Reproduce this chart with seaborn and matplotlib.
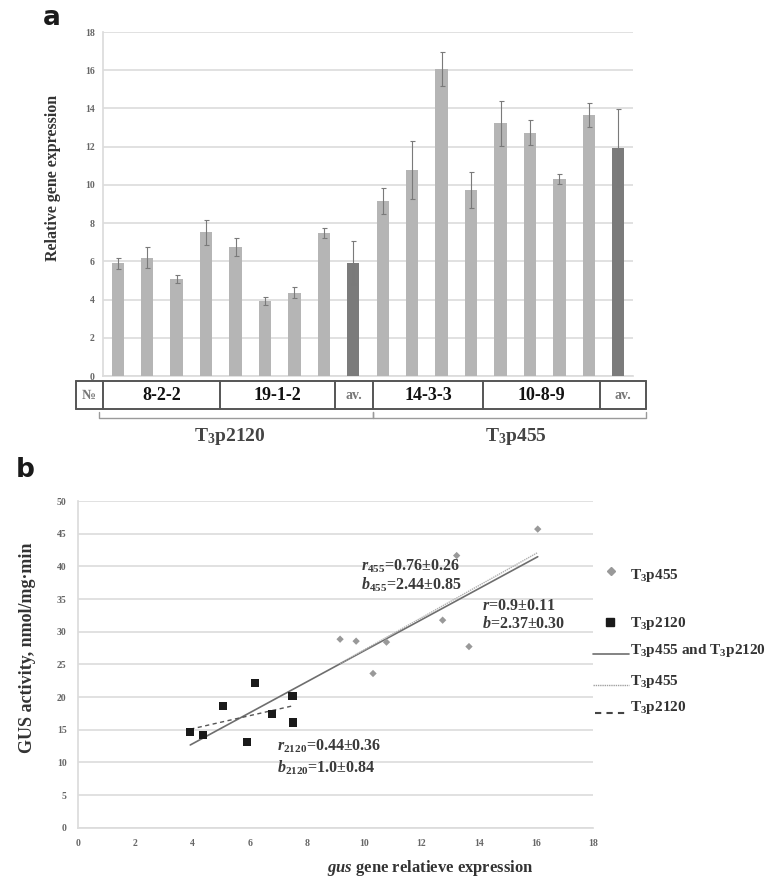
import numpy as np
import pandas as pd
import matplotlib
matplotlib.use("Agg")
import matplotlib.pyplot as plt
import matplotlib.transforms as mtransforms
from matplotlib.lines import Line2D
import seaborn as sns

# ---------------- data ----------------
# panel a: relative gene expression (bars) with error
samples = ["8-2-2 a", "8-2-2 b", "8-2-2 c", "8-2-2 d",
           "19-1-2 a", "19-1-2 b", "19-1-2 c", "19-1-2 d", "av. 2120",
           "14-3-3 a", "14-3-3 b", "14-3-3 c", "14-3-3 d",
           "10-8-9 a", "10-8-9 b", "10-8-9 c", "10-8-9 d", "av. 455"]
expression = [5.9, 6.2, 5.06, 7.52, 6.77, 3.93, 4.36, 7.5, 5.93,
              9.16, 10.78, 16.06, 9.72, 13.23, 12.74, 10.31, 13.66, 11.95]
expression_err = [0.28, 0.57, 0.2, 0.65, 0.47, 0.2, 0.28, 0.27, 1.14,
                  0.67, 1.52, 0.87, 0.94, 1.17, 0.66, 0.26, 0.62, 2.0]
is_average = [False] * 8 + [True] + [False] * 8 + [True]

table_labels = ["№", "8-2-2", "19-1-2", "av.", "14-3-3", "10-8-9", "av."]
construct_labels = ["T$_3$p2120", "T$_3$p455"]

# panel b: GUS activity vs gus expression
p455_expr = [9.16, 10.78, 16.06, 9.72, 13.23, 12.74, 10.31, 13.66]
p455_gus = [28.85, 28.4, 45.7, 28.55, 41.65, 31.76, 23.6, 27.72]
p2120_expr = [5.9, 6.2, 5.06, 7.52, 6.77, 3.93, 4.36, 7.5]
p2120_gus = [13.08, 22.1, 18.64, 16.1, 17.37, 14.7, 14.2, 20.2]

# ---------------- style ----------------
sns.set_theme(style="white")
plt.rcParams["font.family"] = ["Liberation Serif", "DejaVu Serif"]
plt.rcParams["mathtext.fontset"] = "custom"
plt.rcParams["mathtext.rm"] = "Liberation Serif:bold"
plt.rcParams["mathtext.it"] = "Liberation Serif:italic:bold"
plt.rcParams["mathtext.bf"] = "Liberation Serif:bold"

GRID = "#dcdcdc"
TICKC = "#666666"
TXT = "#333333"
LIGHT = "#b5b5b5"
DARK = "#7b7b7b"

fig = plt.figure(figsize=(7.72, 8.8), dpi=100)

# ================= panel a =================
axa = fig.add_axes([103 / 772, 1 - 376 / 880, 530 / 772, 344 / 880])
df_a = pd.DataFrame({"sample": samples, "expr": expression})
pal = {s: (DARK if av else LIGHT) for s, av in zip(samples, is_average)}
sns.barplot(data=df_a, x="sample", y="expr", hue="sample", palette=pal,
            legend=False, width=0.42, linewidth=0, ax=axa, zorder=3)
xpos = np.arange(len(samples))
axa.errorbar(xpos, expression, yerr=expression_err, fmt="none",
             ecolor="#7a7a7a", elinewidth=0.8, capsize=1.8, capthick=0.8,
             zorder=4)
axa.set_xlim(-0.5, len(samples) - 0.5)
axa.set_ylim(0, 18)
axa.set_yticks(np.arange(0, 19, 2))
axa.yaxis.grid(True, color=GRID, lw=1.2, zorder=0)
axa.set_axisbelow(True)
axa.set_xticks([])
axa.set_xlabel("")
axa.set_ylabel("Relative gene expression", fontsize=11.5, fontweight="bold",
               color=TXT)
axa.yaxis.label.set_va("center")
axa.yaxis.set_label_coords(-0.095, 0.576)
for lab in axa.get_yticklabels():
    lab.set_fontsize(7)
    lab.set_fontweight("bold")
    lab.set_color(TICKC)
for s in ["top", "right"]:
    axa.spines[s].set_visible(False)
axa.spines["left"].set_color(GRID)
axa.spines["bottom"].set_color(GRID)
axa.tick_params(axis="y", length=0, pad=6)

# table under panel a (x in data units, y in figure fraction)
tr = mtransforms.blended_transform_factory(axa.transData, fig.transFigure)
edges = [-1.43, -0.51, 3.47, 7.38, 8.67, 12.41, 16.39, 17.95]
y_top, y_bot = 1 - 381 / 880, 1 - 409 / 880
tcol = "#555555"
for y in (y_top, y_bot):
    axa.add_line(Line2D([edges[0], edges[-1]], [y, y], transform=tr,
                        color=tcol, lw=1.4, clip_on=False))
for e in edges:
    axa.add_line(Line2D([e, e], [y_bot, y_top], transform=tr,
                        color=tcol, lw=1.4, clip_on=False))
for i, lab in enumerate(table_labels):
    xc = (edges[i] + edges[i + 1]) / 2
    small = lab in ("№", "av.")
    axa.text(xc, (y_top + y_bot) / 2, lab, transform=tr, ha="center",
             va="center", fontsize=10 if small else 13, fontweight="bold",
             color="#777777" if small else "#111111", clip_on=False)

# brackets
yb = 1 - 418 / 880
yh = 1 - 412 / 880
bcol = "#9a9a9a"
for x0, x1 in [(-0.64, 8.67), (8.67, 17.95)]:
    axa.add_line(Line2D([x0, x0, x1, x1], [yh, yb, yb, yh], transform=tr,
                        color=bcol, lw=1.0, clip_on=False))
fig.text(230 / 772, 1 - 436 / 880, construct_labels[0], ha="center",
         va="center", fontsize=14, fontweight="bold", color="#444444")
fig.text(516 / 772, 1 - 436 / 880, construct_labels[1], ha="center",
         va="center", fontsize=14, fontweight="bold", color="#444444")

fig.text(52 / 772, 1 - 18 / 880, "a", fontsize=19, fontweight="bold",
         family="DejaVu Sans", ha="center", va="center", color="#1a1a1a")

# ================= panel b =================
axb = fig.add_axes([77.7 / 772, 1 - 827.7 / 880, 515.6 / 772, 326.7 / 880])
df455 = pd.DataFrame({"expr": p455_expr, "gus": p455_gus})
df2120 = pd.DataFrame({"expr": p2120_expr, "gus": p2120_gus})
df_all = pd.concat([df455, df2120], ignore_index=True)

sns.regplot(data=df_all, x="expr", y="gus", ci=None, scatter=False,
            truncate=True, ax=axb, line_kws=dict(color="#6e6e6e", lw=1.2))
sns.regplot(data=df455, x="expr", y="gus", ci=None, scatter=False,
            truncate=True, ax=axb,
            line_kws=dict(color="#b0b0b0", lw=1.0, ls=(0, (1, 0.6))))
sns.regplot(data=df2120, x="expr", y="gus", ci=None, scatter=False,
            truncate=True, ax=axb,
            line_kws=dict(color="#555555", lw=1.0, ls=(0, (3, 2.5))))
sns.scatterplot(data=df455, x="expr", y="gus", marker="D", s=14,
                color="#999999", edgecolor="none", ax=axb, zorder=5)
sns.scatterplot(data=df2120, x="expr", y="gus", marker="s", s=34,
                color="#1a1a1a", edgecolor="none", ax=axb, zorder=5)

axb.set_xlim(0, 18)
axb.set_ylim(0, 50)
axb.set_xticks(np.arange(0, 19, 2))
axb.set_yticks(np.arange(0, 51, 5))
axb.yaxis.grid(True, color=GRID, lw=1.2, zorder=0)
axb.set_axisbelow(True)
for s in ["top", "right"]:
    axb.spines[s].set_visible(False)
axb.spines["left"].set_color(GRID)
axb.spines["bottom"].set_color(GRID)
axb.tick_params(axis="x", length=3, color=GRID, direction="in", pad=8)
axb.tick_params(axis="y", length=0, pad=8)
for lab in axb.get_xticklabels() + axb.get_yticklabels():
    lab.set_fontsize(7)
    lab.set_fontweight("bold")
    lab.set_color(TICKC)
axb.set_ylabel("GUS activity, nmol/mg·min", fontsize=13, fontweight="bold",
               color=TXT)
axb.yaxis.label.set_va("center")
axb.yaxis.set_label_coords(-0.097, 0.55)
axb.set_xlabel(r"$\mathit{gus}$ gene relatieve expression", fontsize=12,
               fontweight="bold", color=TXT)
axb.xaxis.label.set_va("center")
axb.xaxis.set_label_coords(0.683, -0.124)

ann = dict(fontsize=11.5, fontweight="bold", color="#3a3a3a", ha="left",
           va="center")
axb.text(9.9, 40.05, r"$r_{\mathit{455}}$=0.76±0.26", **ann)
axb.text(9.9, 37.1, r"$b_{\mathit{455}}$=2.44±0.85", **ann)
axb.text(14.1, 34.0, r"$r$=0.9±0.11", **ann)
axb.text(14.1, 31.1, r"$b$=2.37±0.30", **ann)
axb.text(6.95, 12.4, r"$r_{\mathit{2120}}$=0.44±0.36", **ann)
axb.text(6.95, 9.2, r"$b_{\mathit{2120}}$=1.0±0.84", **ann)

fig.text(25 / 772, 1 - 470 / 880, "b", fontsize=19, fontweight="bold",
         family="DejaVu Sans", ha="center", va="center", color="#1a1a1a")

# ---- legend drawn at reference positions ----
def fx(px):
    return px / 772


def fy(py):
    return 1 - py / 880


legc = "#333333"
LFS = 11
fig.add_artist(Line2D([fx(610.5)], [fy(571)], marker="D", ms=4.5,
                      color="#999999", ls="none"))
fig.text(fx(630), fy(576), "T$_3$p455", fontsize=LFS, fontweight="bold",
         color=legc, va="center", ha="left")
fig.add_artist(Line2D([fx(610)], [fy(622)], marker="s", ms=6,
                      color="#1a1a1a", ls="none"))
fig.text(fx(630), fy(623), "T$_3$p2120", fontsize=LFS, fontweight="bold",
         color=legc, va="center", ha="left")
fig.add_artist(Line2D([fx(593), fx(629)], [fy(654), fy(654)],
                      color="#6e6e6e", lw=1.2))
fig.text(fx(630), fy(650), "T$_3$p455 and T$_3$p2120", fontsize=LFS,
         fontweight="bold", color=legc, va="center", ha="left")
fig.add_artist(Line2D([fx(593), fx(629)], [fy(685), fy(685)],
                      color="#a0a0a0", lw=1.0, ls=(0, (1, 0.6))))
fig.text(fx(630), fy(681), "T$_3$p455", fontsize=LFS, fontweight="bold",
         color=legc, va="center", ha="left")
fig.add_artist(Line2D([fx(595), fx(627)], [fy(713), fy(713)],
                      color="#444444", lw=1.5, ls=(0, (3, 2.5))))
fig.text(fx(630), fy(707), "T$_3$p2120", fontsize=LFS, fontweight="bold",
         color=legc, va="center", ha="left")

fig.savefig("out.png", dpi=100, facecolor="white")
